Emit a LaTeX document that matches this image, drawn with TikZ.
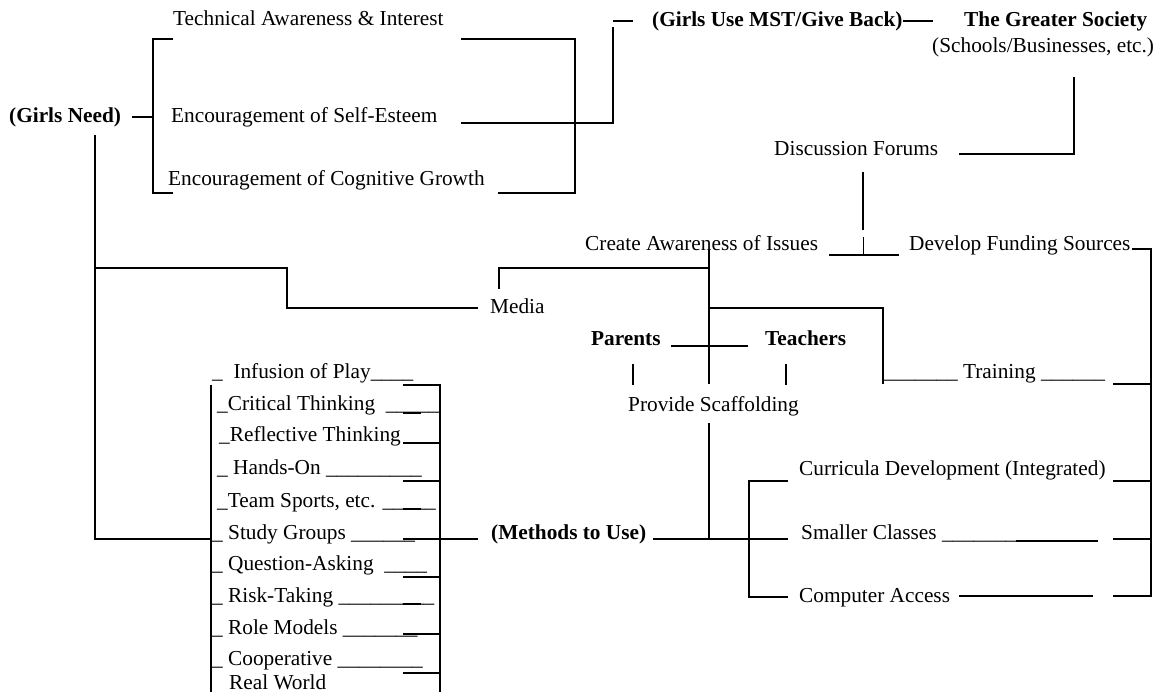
\documentclass[tikz,border=0pt]{standalone}
\usepackage{fontspec}
\setmainfont{Liberation Serif}
\tikzset{txt/.style={anchor=base west, inner sep=0pt, font=\fontsize{21.3}{24}\selectfont}}
\tikzset{hd/.style={txt, font=\fontsize{21.3}{24}\selectfont\bfseries}}
\tikzset{ln/.style={line width=2pt}}

\begin{document}
\begin{tikzpicture}[x=1pt, y=-1pt]
	\useasboundingbox (0,0) rectangle (1162,692);
	
	\node[txt] (tech) at (173,26) {Technical Awareness \& Interest};
	\node[txt] (esteem) at (171,123) {Encouragement of Self-Esteem};
	\node[txt] (cog) at (168,186) {Encouragement of Cognitive Growth};
	\node[hd] (need) at (9,123) {(Girls Need)};
	\node[hd] (use) at (652,27) {(Girls Use MST/Give Back)};
	\node[hd] (soc) at (964,27) {The Greater Society};
	\node[txt] (schools) at (932,53) {(Schools/Businesses, etc.)};
	\node[txt] (forum) at (774,156) {Discussion Forums};
	\node[txt] (aware) at (585,251) {Create Awareness of Issues};
	\node[txt] (fund) at (909,251) {Develop Funding Sources};
	\node[txt] (media) at (490,314) {Media};
	\node[hd] (par) at (591,346) {Parents};
	\node[hd] (teach) at (765,346) {Teachers};
	\node[txt] (scaf) at (628,411) {Provide Scaffolding};
	\node[txt] (train) at (883,379) {\_\_\_\_\_\_\_ Training \_\_\_\_\_\_};
	\node[hd] (meth) at (491,539) {(Methods to Use)};
	\node[txt] (curr) at (799,475) {Curricula Development (Integrated)};
	\node[txt] (small) at (801,539) {Smaller Classes \_\_\_\_\_\_\_};
	\node[txt] (comp) at (799,602) {Computer Access};
	
	\foreach \x/\y/\lbl [count=\i] in {
		212/379/{\_\ \ Infusion of Play\_\_\_\_},
		217/410/{\_Critical Thinking \ \_\_\_\_\_},
		219/442/{\_Reflective Thinking},
		217/474/{\_ Hands-On \_\_\_\_\_\_\_\_\_},
		217/507/{\_Team Sports, etc. \_\_\_\_\_},
		212/539/{\_ Study Groups \_\_\_\_\_\_},
		212/570/{\_ Question-Asking \ \_\_\_\_},
		212/602/{\_ Risk-Taking \_\_\_\_\_\_\_\_\_},
		212/634/{\_ Role Models \_\_\_\_\_\_\_},
		212/665/{\_ Cooperative \_\_\_\_\_\_\_\_},
		229/689/{Real World}} {
		\node[txt] (m\i) at (\x,\y) {\lbl};
	};
	
	\draw[ln] (132,117) -- (153,117);
	\draw[ln] (173,39) -- (153,39) -- (153,193) -- (173,193);
	\draw[ln] (461,39) -- (575,39) -- (575,193) -- (498,193);
	\draw[ln] (461,123) -- (613,123) -- (613,27);
	\draw[ln] (613,21) -- (633,21);
	\draw[ln] (use.east |- 0,21) -- (933,21);
	
	\draw[ln] (1074,77) -- (1074,154) -- (959,154);
	\draw[ln] (863,172) -- (863,230);
	\draw (863,237) -- (863,255);
	\draw[ln] (829,255) -- (899,255);
	\draw[ln] (1132,249) -- (1151,249) -- (1151,596) -- (1113,596);
	\foreach \y in {384,481,539} {
		\draw[ln] (1113,\y) -- (1151,\y);
	};
	
	\draw[ln] (95,135) -- (95,539) -- (211,539);
	\draw[ln] (95,268) -- (287,268) -- (287,308) -- (478,308);
	\draw[ln] (499,289) -- (499,268) -- (709,268);
	\draw[ln] (709,250) -- (709,384);
	\draw[ln] (709,423) -- (709,539);
	\draw[ln] (709,308) -- (883,308) -- (883,384);
	\draw[ln] (671,346) -- (748,346);
	\draw[ln] (633,364) -- (633,385);
	\draw[ln] (786,364) -- (786,385);
	
	\draw[ln] (653,539) -- (788,539);
	\draw[ln] (788,481) -- (749,481) -- (749,597) -- (788,597);
	\draw[ln] (1016,541) -- (1098,541);
	\draw[ln] (959,596) -- (1093,596);
	
	\draw[ln] (211,385) -- (211,692);
	\draw[ln] (403,385) -- (440,385) -- (440,692);
	\foreach \y in {443,481,577,634,673} {
		\draw[ln] (403,\y) -- (440,\y);
	};
	\foreach \y in {413,509,604} {
		\draw[ln] (403,\y) -- (421,\y);
	};
	\draw[ln] (403,539) -- (478,539);
	
\end{tikzpicture}
\end{document}
